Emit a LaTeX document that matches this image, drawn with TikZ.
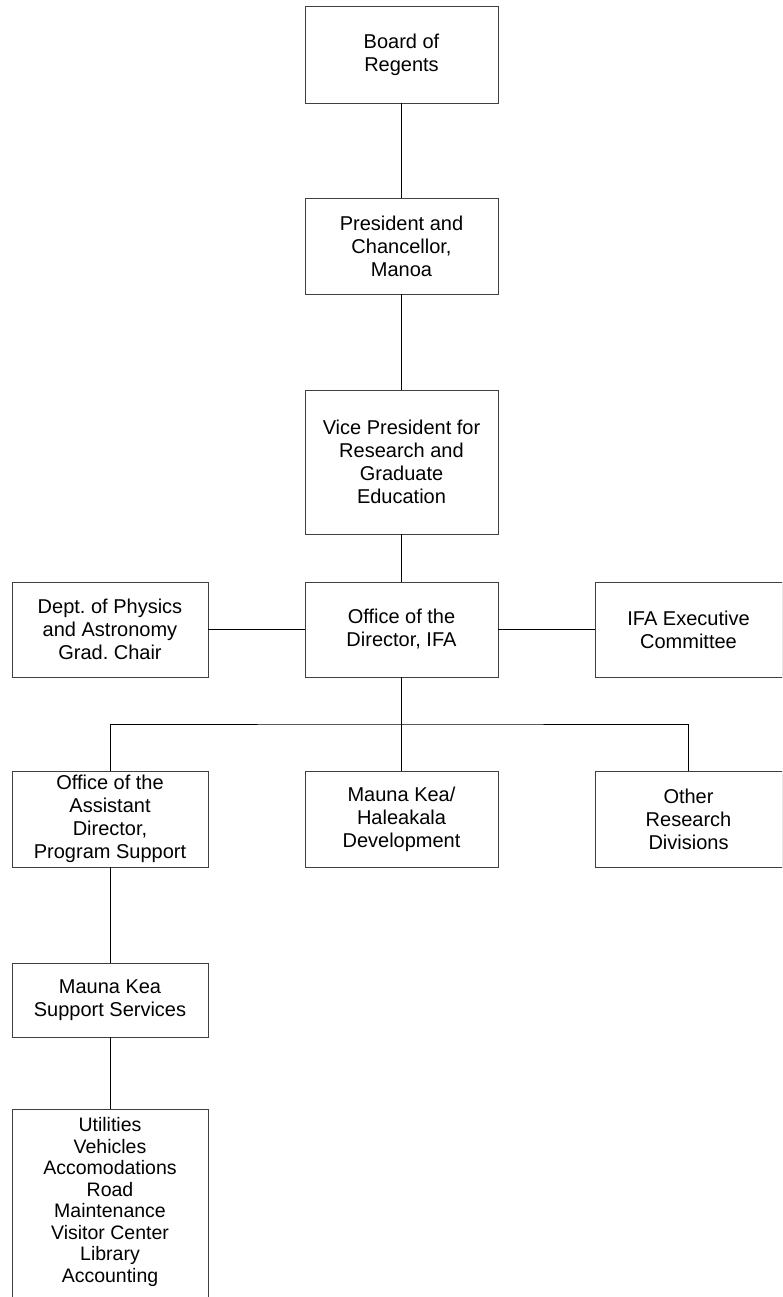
\documentclass[tikz,border=0pt]{standalone}
\usepackage{fontspec}
\setmainfont{Liberation Sans}
\frenchspacing
\begin{document}
\begin{tikzpicture}[x=1pt,y=-1pt,
  box/.style={draw=black!75, line width=0.8pt, align=center, inner sep=0pt,
    font=\fontsize{20}{23}\selectfont, minimum width=193pt},
  conn/.style={line width=0.8pt, black}]
\path[use as bounding box, clip] (0,0) rectangle (782,1297);
\fill[white] (0,0) rectangle (782,1297);
% centre column
\node[box, minimum height=97pt] (board) at (401.5,54.5) {Board of\\Regents};
\node[box, minimum height=96pt] (pres) at (401.5,246) {President and\\Chancellor,\\Manoa};
\node[box, minimum height=144pt] (vp) at (401.5,462) {Vice President for\\Research and\\Graduate\\Education};
\node[box, minimum height=95pt] (dir) at (401.5,629.5) {Office of the\\Director, IFA};
\node[box, minimum width=196pt, minimum height=95pt] (dept) at (110,629.5) {Dept.\ of Physics\\and Astronomy\\Grad.\ Chair};
\node[box, minimum width=187pt, minimum height=95pt] (ifa) at (688.5,629.5) {IFA Executive\\Committee};
% third row
\coordinate (bus) at (401.5,724);
\node[box, minimum width=196pt, minimum height=96pt] (asst) at (110,819) {Office of the\\Assistant\\Director,\\Program Support};
\node[box, minimum height=96pt] (mk) at (401.5,819) {Mauna Kea/\\Haleakala\\Development};
\node[box, minimum width=187pt, minimum height=96pt] (other) at (688.5,819) {Other\\Research\\Divisions};
% left column
\node[box, minimum width=196pt, minimum height=74pt] (mkss) at (110,1000) {Mauna Kea\\Support Services};
\node[box, anchor=north, align=left, inner xsep=3pt, inner ysep=8pt] (util) at (110,1109)
  {\parbox[c][210pt][t]{190pt}{\centering\fontsize{19.5}{21.5}\selectfont
   Utilities\\Vehicles\\Accomodations\\Road\\Maintenance\\Visitor Center\\Library\\Accounting}};
% connectors
\draw[conn] (board.south) -- (pres.north);
\draw[conn] (pres.south) -- (vp.north);
\draw[conn] (vp.south) -- (dir.north);
\draw[conn] (dept.east) -- (dir.west);
\draw[conn] (dir.east) -- (ifa.west);
\draw[conn] (dir.south) -- (bus);
\draw[conn] (asst.north) |- (bus) -| (other.north);
\draw[conn] (mk.north) -- (mk.north |- bus);
\draw[conn] (asst.south) -- (mkss.north);
\draw[conn] (mkss.south) -- (util.north);
\end{tikzpicture}
\end{document}
